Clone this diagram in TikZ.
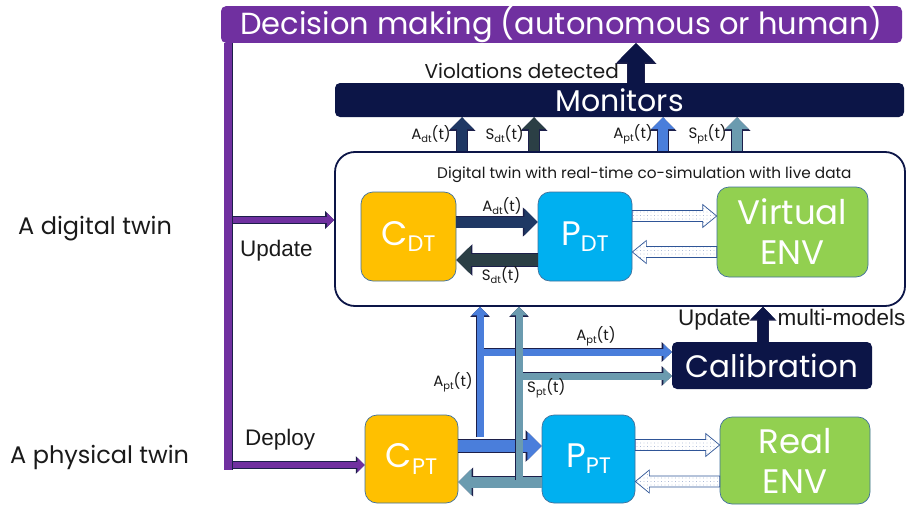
\documentclass[tikz,border=0pt]{standalone}
\usepackage{fontspec}
\setmainfont{Poppins}
\newfontfamily\arialf{Liberation Sans}
\usetikzlibrary{arrows.meta,patterns.meta,calc}
\definecolor{purp}{HTML}{7030A0}
\definecolor{navy}{HTML}{0C1547}
\definecolor{arrline}{HTML}{1C1F4A}
\definecolor{adtcol}{HTML}{1F3864}
\definecolor{sdtcol}{HTML}{2B3F45}
\definecolor{aptcol}{HTML}{4A7EDB}
\definecolor{sptcol}{HTML}{6B9BAF}
\definecolor{boxline}{HTML}{41719C}
\definecolor{cfill}{HTML}{FFC000}
\definecolor{pfill}{HTML}{00B0F0}
\definecolor{efill}{HTML}{92D050}
\definecolor{dotline}{HTML}{2F5597}
\definecolor{dotcol}{HTML}{7F95BF}
\definecolor{txt}{HTML}{1A1A1A}
\newcommand{\lowsub}[1]{\raisebox{-0.18em}{\scalebox{0.66}{#1}}}
\newcommand{\dotarrow}[2]{%
  \draw[dotarr] let \p1=(#1), \p2=(#2), \n1={sign(\x2-\x1)} in
    (\x1,\y1+5.5pt) -- (\x2-\n1*14pt,\y1+5.5pt) -- (\x2-\n1*14pt,\y1+11.5pt) -- (\x2,\y1)
    -- (\x2-\n1*14pt,\y1-11.5pt) -- (\x2-\n1*14pt,\y1-5.5pt) -- (\x1,\y1-5.5pt) -- cycle;}

\begin{document}
\begin{tikzpicture}
  [ x=1pt, y=-1pt,
    tbox/.style={rectangle, rounded corners=12pt, draw=boxline, line width=0.7pt, text=white, inner sep=0pt, align=center, font=\fontsize{34}{40}\selectfont},
    cbox/.style={tbox, fill=cfill},
    pbox/.style={tbox, fill=pfill},
    ebox/.style={tbox, fill=efill},
    dbox/.style={rectangle, rounded corners=5pt, text=white, inner sep=0pt, font=\fontsize{30}{36}\selectfont},
    lbl/.style={inner sep=0pt, text=txt, font=\fontsize{15}{18}\selectfont},
    arlbl/.style={inner sep=0pt, text=txt, font=\arialf\fontsize{22.5}{26}\selectfont},
    blk/.style 2 args={draw=#1, line width=#2, -{Triangle[length=0pt 1.2,width=0pt 2.3]},
      preaction={draw=arrline, line width=#2+1.4pt, -{Triangle[length=0pt 1.2,width=0pt 2.3]}}},
    purpbar/.style={draw=purp, line width=8pt, preaction={draw=arrline, line width=9.4pt}},
    dotarr/.style={draw=dotline, line width=0.7pt, preaction={fill=white}, pattern={Dots[distance=3.5pt, radius=0.45pt]}, pattern color=dotcol}
  ]
  \useasboundingbox (0,0) rectangle (913,506);
  \fill[white] (0,0) rectangle (913,506);

  \node[dbox, fill=purp, minimum width=681pt, minimum height=35pt, font=\fontsize{30.5}{36}\selectfont] (decision) at (561.5,24.5) {Decision making (autonomous or human)};
  \node[dbox, fill=navy, minimum width=569pt, minimum height=34pt] (monitors) at (619.5,100) {Monitors};
  \node[rectangle, rounded corners=20pt, draw=navy, line width=1.8pt, fill=white, minimum width=570pt, minimum height=154pt] (dtbox) at (620,229) {};
  \node[lbl, anchor=west, font=\fontsize{15.3}{18}\selectfont] (dttitle) at (437,175) {Digital twin with real-time co-simulation with live data};
  \node[cbox, minimum width=95pt, minimum height=89pt] (cdt) at (408.5,236.5) {C\lowsub{DT}};
  \node[pbox, minimum width=94pt, minimum height=89pt] (pdt) at (585,236.5) {P\lowsub{DT}};
  \node[ebox, minimum width=151pt, minimum height=90pt] (venv) at (792.5,232) {Virtual\\ENV};
  \node[cbox, minimum width=93pt, minimum height=88pt] (cpt) at (411.5,459) {C\lowsub{PT}};
  \node[pbox, minimum width=93pt, minimum height=88pt] (ppt) at (588.5,459) {P\lowsub{PT}};
  \node[ebox, minimum width=150pt, minimum height=87pt] (renv) at (795,460.5) {Real\\ENV};
  \node[dbox, fill=navy, minimum width=200pt, minimum height=47pt, font=\fontsize{31}{36}\selectfont] (calib) at (772,365.5) {Calibration};

  \node[lbl, anchor=west, font=\fontsize{24}{28}\selectfont] (ldigital) at (18,229) {A digital twin};
  \node[lbl, anchor=west, font=\fontsize{24}{28}\selectfont] (lphysical) at (10,457) {A physical twin};
  \node[arlbl, anchor=west] (lupdate) at (240,251) {Update};
  \node[arlbl, anchor=west] (ldeploy) at (245,440) {Deploy};
  \node[lbl, anchor=east, font=\fontsize{20}{24}\selectfont] (lviol) at (619,71) {Violations detected};

  \coordinate (bartop) at ([xshift=7.5pt]decision.south west);
  \coordinate (barbot) at (bartop |- 0,470);
  \draw[purpbar] (bartop) -- (barbot);
  \coordinate (updfoot) at (233,220);
  \coordinate (depfoot) at (233,465);
  \draw[blk={purp}{6pt}] (updfoot) -- (updfoot -| dtbox.west);
  \draw[blk={purp}{6pt}] (depfoot) -- (depfoot -| cpt.west);

  \foreach \dx/\col in {-158/adtcol,-86/sdtcol,43/aptcol,117/sptcol}
    \draw[blk={\col}{10pt}] ([xshift=\dx pt]dtbox.north) -- ([xshift=\dx pt]dtbox.north |- monitors.south);
  \node[lbl, anchor=east] (ladtm) at (451,134) {A\lowsub{dt}(t)};
  \node[lbl, anchor=east] (lsdtm) at (524,134) {S\lowsub{dt}(t)};
  \node[lbl, anchor=east] (laptm) at (653,134) {A\lowsub{pt}(t)};
  \node[lbl, anchor=east] (lsptm) at (727,134) {S\lowsub{pt}(t)};

  \coordinate (violfoot) at ([xshift=16.5pt]monitors.north);
  \draw[blk={navy}{16pt}] (violfoot) -- (violfoot |- decision.south);

  \coordinate (adtfoot) at ([yshift=14.5pt]cdt.east);
  \draw[blk={adtcol}{11pt}] (adtfoot) -- (adtfoot -| pdt.west);
  \coordinate (sdtfoot) at ([yshift=-23.5pt]pdt.west);
  \draw[blk={sdtcol}{12pt}] (sdtfoot) -- (sdtfoot -| cdt.east);
  \node[lbl] (ladth) at (502,206) {A\lowsub{dt}(t)};
  \node[lbl] (lsdth) at (501,275) {S\lowsub{dt}(t)};
  \coordinate (vtop) at ([yshift=20.5pt]pdt.east);
  \dotarrow{vtop}{vtop -| venv.west}
  \coordinate (vbot) at ([yshift=-20pt]venv.west);
  \dotarrow{vbot}{vbot -| pdt.east}

  \coordinate (aptfoot) at ([yshift=13pt]cpt.east);
  \draw[blk={aptcol}{12pt}] (aptfoot) -- (aptfoot -| ppt.west);
  \coordinate (sptfoot) at ([yshift=-23pt]ppt.west);
  \draw[blk={sptcol}{11pt}] (sptfoot) -- (sptfoot -| cpt.east);
  \coordinate (rtop) at ([yshift=14pt]ppt.east);
  \dotarrow{rtop}{rtop -| renv.west}
  \coordinate (rbot) at ([yshift=-21pt]renv.west);
  \dotarrow{rbot}{rbot -| ppt.east}

  \coordinate (aptup) at (480,437);
  \coordinate (aptbr) at (480,352);
  \coordinate (sptup) at (519,480);
  \coordinate (sptbr) at (519,376);
  \draw[blk={aptcol}{7pt}] (aptbr) -- (aptbr -| calib.west);
  \draw[blk={aptcol}{7pt}] (aptup) -- (aptup |- dtbox.south);
  \draw[blk={sptcol}{7pt}] (sptbr) -- (sptbr -| calib.west);
  \draw[blk={sptcol}{7pt}] (sptup) -- (sptup |- dtbox.south);
  \node[lbl] (lapth) at (596,336) {A\lowsub{pt}(t)};
  \node[lbl, anchor=east] (laptv) at (473,382) {A\lowsub{pt}(t)};
  \node[lbl, anchor=west] (lsptv) at (527,388) {S\lowsub{pt}(t)};

  \coordinate (calfoot) at ([xshift=-9pt]calib.north);
  \draw[blk={navy}{10pt}] (calfoot) -- (calfoot |- dtbox.south);
  \node[arlbl, anchor=west] (lmulti) at (678,320) {Update\hspace{27pt}multi-models};
\end{tikzpicture}
\end{document}
